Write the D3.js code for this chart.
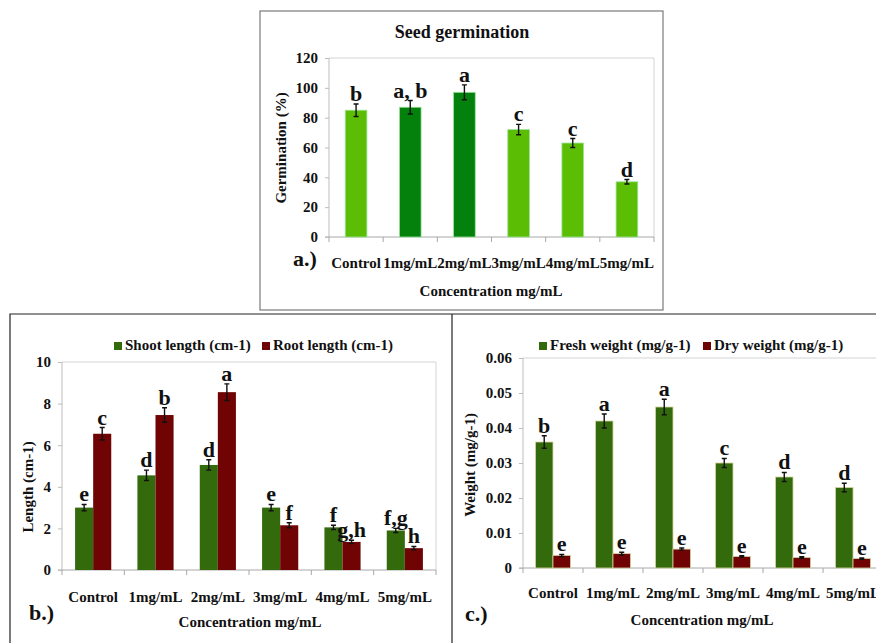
<!DOCTYPE html>
<html>
<head>
<meta charset="utf-8">
<script src="https://cdn.jsdelivr.net/npm/d3@7/dist/d3.min.js"></script>
<style>
  html, body { margin: 0; padding: 0; background: #fff; }
  svg { display: block; font-family: "Liberation Serif", "Times New Roman", serif; font-weight: bold; }
</style>
</head>
<body>
<svg id="fig" width="876" height="643"></svg>
<script>
// Treatment groups shared by all three panels
const categories = ["Control", "1mg/mL", "2mg/mL", "3mg/mL", "4mg/mL", "5mg/mL"];

// a.) Seed germination (%)
const germination = [85, 87, 97, 72, 63, 37];
const germinationErr = [4.2, 4.5, 5, 3.5, 3, 1.5];
const germinationLetters = ["b", "a, b", "a", "c", "c", "d"];
const germinationTicks = [0, 20, 40, 60, 80, 100, 120];

// b.) Shoot and root length (cm)
const shootLength = [3.0, 4.55, 5.05, 3.0, 2.05, 1.9];
const shootLengthErr = [0.15, 0.25, 0.25, 0.15, 0.1, 0.1];
const shootLetters = ["e", "d", "d", "e", "f", "f,g"];
const rootLength = [6.55, 7.45, 8.55, 2.15, 1.35, 1.05];
const rootLengthErr = [0.3, 0.35, 0.4, 0.12, 0.08, 0.08];
const rootLetters = ["c", "b", "a", "f", "g,h", "h"];
const lengthTicks = [0, 2, 4, 6, 8, 10];

// c.) Fresh and dry weight
const freshWeight = [0.036, 0.042, 0.046, 0.030, 0.026, 0.023];
const freshWeightErr = [0.0018, 0.002, 0.0022, 0.0013, 0.0013, 0.0012];
const freshLetters = ["b", "a", "a", "c", "d", "d"];
const dryWeight = [0.0036, 0.0041, 0.0054, 0.0033, 0.003, 0.0027];
const dryWeightErr = [0.0003, 0.0004, 0.0003, 0.0002, 0.0002, 0.0002];
const dryLetters = ["e", "e", "e", "e", "e", "e"];
const weightTicks = [0, 0.01, 0.02, 0.03, 0.04, 0.05, 0.06];

const svg = d3.select("#fig");

// Panel frames
svg.append("rect").attr("x", 260).attr("y", 11).attr("width", 403).attr("height", 299)
  .attr("fill", "none").attr("stroke", "#7a7a7a").attr("stroke-width", 1.2);
svg.append("path").attr("d", "M10,643 V314 H876 M452,314 V643")
  .attr("fill", "none").attr("stroke", "#222").attr("stroke-width", 1.2);

// Generic grouped bar panel with error bars and significance letters
function barPanel(cfg) {
  const g = svg.append("g");
  const x = d3.scaleBand().domain(categories)
    .range([cfg.left, cfg.right]).paddingInner(cfg.padIn).paddingOuter(cfg.padOut);
  const y = d3.scaleLinear().domain(cfg.domain).range([cfg.bottom, cfg.top]);
  const sub = d3.scaleBand().domain(d3.range(cfg.series.length)).range([0, x.bandwidth()]);
  const step = x.step();
  const x0 = cfg.left;

  // plot frame: light top/right edges, grey axes
  g.append("path")
    .attr("d", `M${x0},${cfg.top} H${cfg.right} V${cfg.bottom}`)
    .attr("fill", "none").attr("stroke", "#d4d4d4").attr("stroke-width", 1);
  g.append("line").attr("x1", x0).attr("x2", x0).attr("y1", cfg.top).attr("y2", cfg.bottom)
    .attr("stroke", "#bdbdbd");
  g.append("line").attr("x1", x0 - 4).attr("x2", cfg.right).attr("y1", cfg.bottom).attr("y2", cfg.bottom)
    .attr("stroke", "#a8a8a8");

  // y axis ticks and labels
  const yAxis = d3.axisLeft(y).tickValues(cfg.ticks).tickSize(4).tickPadding(7)
    .tickFormat(cfg.fmt);
  const ya = g.append("g").attr("transform", `translate(${x0},0)`).call(yAxis);
  ya.select(".domain").remove();
  ya.selectAll(".tick line").attr("stroke", "#bdbdbd");
  ya.selectAll(".tick text").attr("fill", "#111").style("font-size", "15px")
    .style("font-family", "Liberation Serif").style("font-weight", "bold");

  // x boundary ticks
  g.selectAll(".xtick").data(d3.range(0, categories.length + 1)).join("line")
    .attr("x1", d => x0 + d * step).attr("x2", d => x0 + d * step)
    .attr("y1", cfg.bottom).attr("y2", cfg.bottom + 5).attr("stroke", "#a8a8a8");

  // x category labels
  g.selectAll(".xlab").data(categories).join("text")
    .attr("x", d => x(d) + x.bandwidth() / 2).attr("y", cfg.bottom + cfg.labelDy)
    .attr("text-anchor", "middle").style("font-size", "15px").attr("fill", "#111").text(d => d);

  cfg.series.forEach((s, si) => {
    const bars = categories.map((c, i) => ({ c, i, v: s.values[i], e: s.err[i], l: s.letters[i] }));
    g.selectAll(null).data(bars).join("rect")
      .attr("x", d => x(d.c) + sub(si)).attr("width", sub.bandwidth())
      .attr("y", d => y(d.v)).attr("height", d => y(0) - y(d.v))
      .attr("fill", d => s.color(d.i))
      .attr("stroke", s.stroke || "none").attr("stroke-width", s.stroke ? 0.8 : 0);
    const cx = d => x(d.c) + sub(si) + sub.bandwidth() / 2;
    g.selectAll(null).data(bars).join("path")
      .attr("d", d => {
        const t = y(d.v + d.e), b = y(d.v - d.e), c = cx(d);
        return `M${c},${t} V${b} M${c - 2.5},${t} H${c + 2.5} M${c - 2.5},${b} H${c + 2.5}`;
      })
      .attr("stroke", "#111").attr("stroke-width", 1.4).attr("fill", "none");
    g.selectAll(null).data(bars).join("text")
      .attr("x", cx).attr("y", d => y(d.v + d.e) - 3)
      .attr("text-anchor", "middle").style("font-size", "22px").attr("fill", "#111")
      .text(d => d.l);
  });

  // axis titles and panel tag
  g.append("text").attr("transform", `translate(${cfg.yTitleX},${cfg.yTitleY}) rotate(-90)`)
    .attr("text-anchor", "middle").style("font-size", "15px").attr("fill", "#111").text(cfg.yTitle);
  g.append("text").attr("x", cfg.xTitleX).attr("y", cfg.xTitleY)
    .attr("text-anchor", "middle").style("font-size", "15px").attr("fill", "#111")
    .text("Concentration mg/mL");
  g.append("text").attr("x", cfg.tagX).attr("y", cfg.tagY)
    .style("font-size", "22px").attr("fill", "#111").text(cfg.tag);

  // legend
  if (cfg.legend) {
    cfg.legend.forEach(it => {
      g.append("rect").attr("x", it.x).attr("y", cfg.legendY - 8).attr("width", 8).attr("height", 8)
        .attr("fill", it.color);
      g.append("text").attr("x", it.x + 11).attr("y", cfg.legendY)
        .style("font-size", "15px").attr("fill", "#111").text(it.label);
    });
  }
  return g;
}

const lightGreen = "#5cbe04", darkGreen = "#04800c";
const olive = "#336a0c", maroon = "#700404";

// a.) Seed germination
barPanel({
  left: 329, right: 654, top: 58, bottom: 237, padIn: 0.6, padOut: 0.3,
  domain: [0, 120], ticks: germinationTicks, fmt: d3.format("d"),
  series: [{
    values: germination, err: germinationErr, letters: germinationLetters,
    color: i => (i === 1 || i === 2) ? darkGreen : lightGreen, stroke: "#9be39b"
  }],
  labelDy: 31, yTitle: "Germination (%)", yTitleX: 286, yTitleY: 148,
  xTitleX: 491, xTitleY: 296, tag: "a.)", tagX: 293, tagY: 266
});
svg.append("text").attr("x", 462).attr("y", 38).attr("text-anchor", "middle")
  .style("font-size", "18px").attr("fill", "#111").text("Seed germination");

// b.) Length
barPanel({
  left: 62, right: 436, top: 362, bottom: 570, padIn: 0.42, padOut: 0.21,
  domain: [0, 10], ticks: lengthTicks, fmt: d3.format("d"),
  series: [
    { values: shootLength, err: shootLengthErr, letters: shootLetters, color: () => olive },
    { values: rootLength, err: rootLengthErr, letters: rootLetters, color: () => maroon }
  ],
  labelDy: 32, yTitle: "Length (cm-1)", yTitleX: 33, yTitleY: 487,
  xTitleX: 250, xTitleY: 627, tag: "b.)", tagX: 29, tagY: 620,
  legendY: 350,
  legend: [
    { x: 114, color: olive, label: "Shoot length (cm-1)" },
    { x: 262, color: maroon, label: "Root length (cm-1)" }
  ]
});

// c.) Weight
barPanel({
  left: 523, right: 883, top: 358, bottom: 568, padIn: 0.417, padOut: 0.208,
  domain: [0, 0.06], ticks: weightTicks, fmt: d => d === 0 ? "0" : d3.format(".2f")(d),
  series: [
    { values: freshWeight, err: freshWeightErr, letters: freshLetters, color: () => olive, stroke: "#d8d4a0" },
    { values: dryWeight, err: dryWeightErr, letters: dryLetters, color: () => maroon, stroke: "#d8d4a0" }
  ],
  labelDy: 30, yTitle: "Weight (mg/g-1)", yTitleX: 475, yTitleY: 465,
  xTitleX: 702, xTitleY: 625, tag: "c.)", tagX: 465, tagY: 621,
  legendY: 350,
  legend: [
    { x: 539, color: olive, label: "Fresh weight (mg/g-1)" },
    { x: 703, color: maroon, label: "Dry weight (mg/g-1)" }
  ]
});
</script>
</body>
</html>
